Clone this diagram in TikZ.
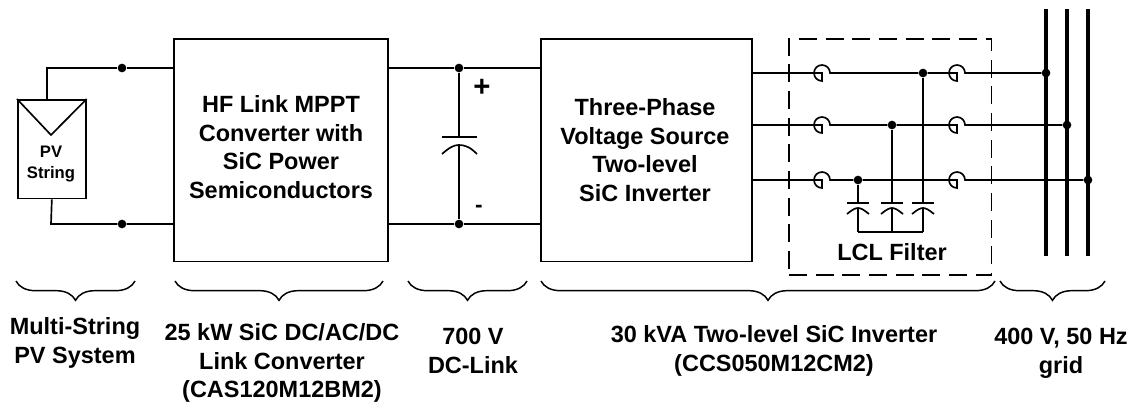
\documentclass[tikz,border=0pt]{standalone}
\usepackage{fontspec}
\setmainfont{Liberation Sans}
\usetikzlibrary{decorations.pathreplacing}
\tikzset{
  wire/.style={line width=1.25pt},
  dotnode/.style={circle,fill=black,inner sep=0pt,minimum size=6.5pt},
  blockbox/.style={draw,line width=1.25pt,minimum width=160.5pt,minimum height=167pt},
  lab/.style={align=center,font=\bfseries\fontsize{17.6}{21.5}\selectfont},
  brc/.style={line width=1.1pt,decorate,decoration={brace,mirror,amplitude=14.5pt}},
}
\begin{document}
\begin{tikzpicture}[x=0.75pt,y=-0.75pt]
\useasboundingbox (0,0) rectangle (1136,403);
% blocks
\node[blockbox,anchor=north west] (mppt) at (173,38) {};
\node[lab] (mppttext) at (281,147) {HF Link MPPT\\Converter with\\SiC Power\\Semiconductors};
\node[blockbox,anchor=north west,minimum width=158.5pt] (inv) at (540,38) {};
\node[lab] (invtext) at (645,150) {Three-Phase\\Voltage Source\\Two-level\\SiC Inverter};
% PV string
\node[draw,line width=1.25pt,anchor=north west,minimum width=51pt,minimum height=74pt,inner sep=0pt] (pv) at (17,99) {};
\node[align=center,font=\bfseries\fontsize{12.5}{16}\selectfont] (pvtext) at (51,164) {PV\\String};
\coordinate (pvtip) at (51,135);
\draw[wire] (pv.north west) -- (pvtip) -- (pv.north east);
\coordinate (pvtop) at (47,68);
\coordinate (pvbot) at (51,224);
\node[dotnode] (d1) at (122,68) {};
\node[dotnode] (d2) at (122,224) {};
\draw[wire] (47,99) -- (pvtop) -- (d1) -- (173,68);
\draw[wire] (pv.south) -- (pvbot) -- (d2) -- (173,224);
% dc link
\node[dotnode] (d3) at (459,68) {};
\node[dotnode] (d4) at (459,224) {};
\draw[wire] (387,68) -- (d3) -- (540,68);
\draw[wire] (387,224) -- (d4) -- (540,224);
\coordinate (cup) at (459,137);
\coordinate (clo) at (459,145);
\draw[wire] (d3) -- (cup);
\draw[wire] (442,137) -- (477,137);
\draw[wire] (442,154) .. controls (450,147) and (454,145) .. (459,145) .. controls (465,145) and (470,147) .. (477,154);
\draw[wire] (clo) -- (d4);
\node[font=\bfseries\fontsize{22}{22}\selectfont] (plus) at (482,88) {+};
\node[font=\bfseries\fontsize{17}{17}\selectfont] (minus) at (479,209) {-};
% lcl filter
\node[draw,line width=1.35pt,dash pattern=on 13.5pt off 6.5pt,anchor=north west,minimum width=152pt,minimum height=177pt] (lcl) at (788,38) {};
\node[lab] (lcltext) at (892,252) {LCL Filter};
\foreach \px/\py/\fx/\name in {1046/73/923/a,1067/125/892/b,1088/180/858/c}{
  \node[dotnode] (grid\name) at (\px,\py) {};
  \node[dotnode] (flt\name) at (\fx,\py) {};
  % wire with the two chokes
  \draw[wire] (751,\py) -- (822,\py) -- (822,\py+8) arc[start angle=90,end angle=360,radius=8]
    -- (flt\name) -- (957,\py) -- (957,\py+8) arc[start angle=90,end angle=360,radius=8] -- (grid\name);
  % filter caps
  \coordinate (capt\name) at (\fx,203);
  \coordinate (capb\name) at (\fx,208);
  \coordinate (capl\name) at (\fx,232);
  \draw[wire] (flt\name) -- (capt\name);
  \draw[wire] (\fx-11,203) -- (\fx+11,203);
  \draw[wire] (\fx-11,214) .. controls (\fx-6,210) and (\fx-3,208) .. (capb\name) .. controls (\fx+3,208) and (\fx+6,210) .. (\fx+11,214);
  \draw[wire] (capb\name) -- (capl\name);
  % grid bars
  \draw[line width=2.3pt] (\px,9) -- (\px,256);
}
\draw[wire] (capla) -- (caplc);
% braces
\foreach \xa/\xb in {16/135,175/383,408/527,541/995,1000/1105}{
  \draw[brc] (\xa,281) -- (\xb,281);
}
% labels
\node[lab] (t1) at (75,343) {Multi-String\\PV System};
\node[lab] (t2) at (282,363) {25 kW SiC DC/AC/DC\\Link Converter\\(CAS120M12BM2)};
\node[lab] (t3) at (473,351) {700 V\\DC-Link};
\node[lab] (t4) at (774,351) {30 kVA Two-level SiC Inverter\\(CCS050M12CM2)};
\node[lab] (t5) at (1061,353) {400 V, 50 Hz\\grid};
\end{tikzpicture}
\end{document}
